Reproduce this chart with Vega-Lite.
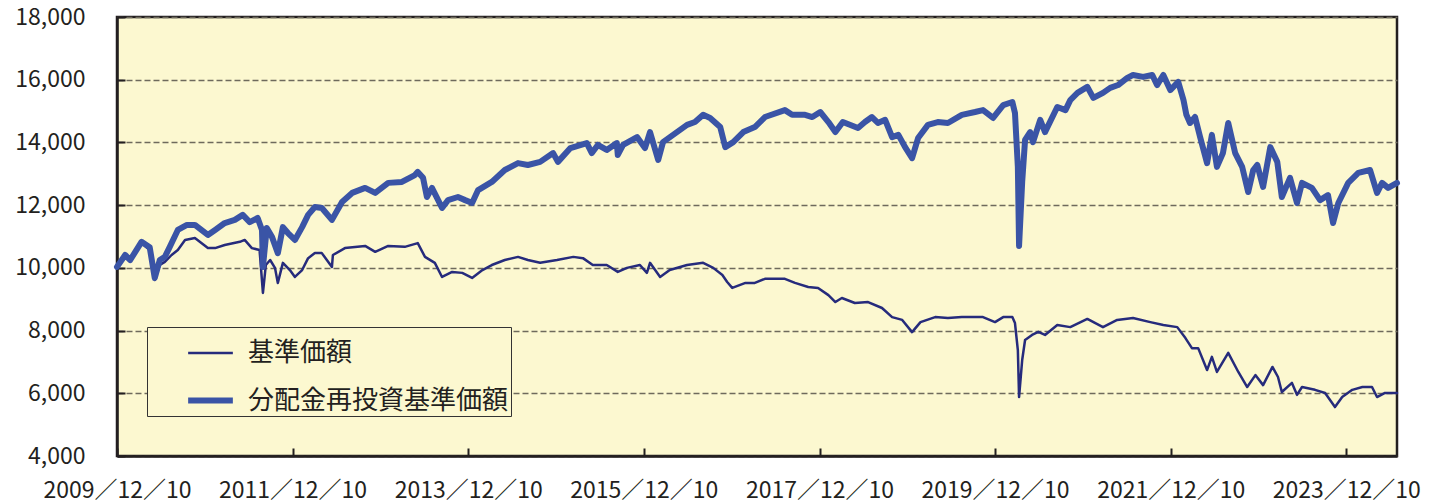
{
  "$schema": "https://vega.github.io/schema/vega-lite/v6.json",
  "width": 1280,
  "height": 439,
  "autosize": "none",
  "padding": {"left": 117, "top": 17, "right": 35, "bottom": 47},
  "background": "white",
  "config": {
    "font": "Noto Sans CJK JP",
    "view": {"fill": "#FCF8D0", "stroke": "#231F20", "strokeWidth": 2.5},
    "axis": {
      "labelFont": "Noto Sans CJK JP",
      "labelFontSize": 23,
      "labelColor": "#231F20",
      "domainColor": "#231F20",
      "domainWidth": 2.5,
      "tickColor": "#231F20",
      "tickWidth": 2,
      "tickSize": -8
    },
    "legend": {
      "labelFont": "Noto Sans CJK JP",
      "labelFontSize": 26,
      "labelColor": "#231F20",
      "labelLimit": 600
    }
  },
  "data": {
    "values": [
      {"date": "2009-12-10", "series": "基準価額", "value": 10030},
      {"date": "2010-01-13", "series": "基準価額", "value": 10380},
      {"date": "2010-02-03", "series": "基準価額", "value": 10220},
      {"date": "2010-03-22", "series": "基準価額", "value": 10790},
      {"date": "2010-04-25", "series": "基準価額", "value": 10570},
      {"date": "2010-05-16", "series": "基準価額", "value": 9610},
      {"date": "2010-06-06", "series": "基準価額", "value": 10090},
      {"date": "2010-06-27", "series": "基準価額", "value": 10190},
      {"date": "2010-07-25", "series": "基準価額", "value": 10410},
      {"date": "2010-08-20", "series": "基準価額", "value": 10570},
      {"date": "2010-09-19", "series": "基準価額", "value": 10890},
      {"date": "2010-10-30", "series": "基準価額", "value": 10950},
      {"date": "2010-12-23", "series": "基準価額", "value": 10630},
      {"date": "2011-01-22", "series": "基準価額", "value": 10630},
      {"date": "2011-03-03", "series": "基準価額", "value": 10730},
      {"date": "2011-05-05", "series": "基準価額", "value": 10830},
      {"date": "2011-05-25", "series": "基準価額", "value": 10890},
      {"date": "2011-06-24", "series": "基準価額", "value": 10630},
      {"date": "2011-07-26", "series": "基準価額", "value": 10570},
      {"date": "2011-08-09", "series": "基準価額", "value": 9200},
      {"date": "2011-08-21", "series": "基準価額", "value": 10090},
      {"date": "2011-09-08", "series": "基準価額", "value": 10250},
      {"date": "2011-09-28", "series": "基準価額", "value": 10000},
      {"date": "2011-10-10", "series": "基準価額", "value": 9520},
      {"date": "2011-10-31", "series": "基準価額", "value": 10160},
      {"date": "2011-11-29", "series": "基準価額", "value": 9930},
      {"date": "2011-12-20", "series": "基準価額", "value": 9710},
      {"date": "2012-01-19", "series": "基準価額", "value": 9930},
      {"date": "2012-02-13", "series": "基準価額", "value": 10310},
      {"date": "2012-03-12", "series": "基準価額", "value": 10470},
      {"date": "2012-04-10", "series": "基準価額", "value": 10470},
      {"date": "2012-05-22", "series": "基準価額", "value": 10030},
      {"date": "2012-05-26", "series": "基準価額", "value": 10410},
      {"date": "2012-07-15", "series": "基準価額", "value": 10630},
      {"date": "2012-10-07", "series": "基準価額", "value": 10700},
      {"date": "2012-11-18", "series": "基準価額", "value": 10510},
      {"date": "2013-01-11", "series": "基準価額", "value": 10700},
      {"date": "2013-03-21", "series": "基準価額", "value": 10670},
      {"date": "2013-05-14", "series": "基準価額", "value": 10790},
      {"date": "2013-06-13", "series": "基準価額", "value": 10350},
      {"date": "2013-07-24", "series": "基準価額", "value": 10160},
      {"date": "2013-08-23", "series": "基準価額", "value": 9710},
      {"date": "2013-10-04", "series": "基準価額", "value": 9870},
      {"date": "2013-11-15", "series": "基準価額", "value": 9840},
      {"date": "2013-12-26", "series": "基準価額", "value": 9680},
      {"date": "2014-02-07", "series": "基準価額", "value": 9930},
      {"date": "2014-03-18", "series": "基準価額", "value": 10090},
      {"date": "2014-05-11", "series": "基準価額", "value": 10250},
      {"date": "2014-07-05", "series": "基準価額", "value": 10350},
      {"date": "2014-08-15", "series": "基準価額", "value": 10250},
      {"date": "2014-10-05", "series": "基準価額", "value": 10160},
      {"date": "2014-12-14", "series": "基準価額", "value": 10250},
      {"date": "2015-02-20", "series": "基準価額", "value": 10350},
      {"date": "2015-04-01", "series": "基準価額", "value": 10310},
      {"date": "2015-05-12", "series": "基準価額", "value": 10090},
      {"date": "2015-07-09", "series": "基準価額", "value": 10090},
      {"date": "2015-08-24", "series": "基準価額", "value": 9870},
      {"date": "2015-10-01", "series": "基準価額", "value": 10000},
      {"date": "2015-11-24", "series": "基準価額", "value": 10090},
      {"date": "2015-12-23", "series": "基準価額", "value": 9840},
      {"date": "2016-01-05", "series": "基準価額", "value": 10160},
      {"date": "2016-02-16", "series": "基準価額", "value": 9710},
      {"date": "2016-03-27", "series": "基準価額", "value": 9930},
      {"date": "2016-06-07", "series": "基準価額", "value": 10090},
      {"date": "2016-08-13", "series": "基準価額", "value": 10160},
      {"date": "2016-09-24", "series": "基準価額", "value": 10000},
      {"date": "2016-11-01", "series": "基準価額", "value": 9770},
      {"date": "2016-11-21", "series": "基準価額", "value": 9550},
      {"date": "2016-12-12", "series": "基準価額", "value": 9360},
      {"date": "2017-02-05", "series": "基準価額", "value": 9520},
      {"date": "2017-03-16", "series": "基準価額", "value": 9520},
      {"date": "2017-04-27", "series": "基準価額", "value": 9650},
      {"date": "2017-07-19", "series": "基準価額", "value": 9650},
      {"date": "2017-08-30", "series": "基準価額", "value": 9520},
      {"date": "2017-10-24", "series": "基準価額", "value": 9390},
      {"date": "2017-12-04", "series": "基準価額", "value": 9360},
      {"date": "2018-01-16", "series": "基準価額", "value": 9130},
      {"date": "2018-02-14", "series": "基準価額", "value": 8910},
      {"date": "2018-03-13", "series": "基準価額", "value": 9040},
      {"date": "2018-05-06", "series": "基準価額", "value": 8880},
      {"date": "2018-06-30", "series": "基準価額", "value": 8910},
      {"date": "2018-08-27", "series": "基準価額", "value": 8720},
      {"date": "2018-10-08", "series": "基準価額", "value": 8430},
      {"date": "2018-11-19", "series": "基準価額", "value": 8340},
      {"date": "2018-12-30", "series": "基準価額", "value": 7950},
      {"date": "2019-02-03", "series": "基準価額", "value": 8270},
      {"date": "2019-04-05", "series": "基準価額", "value": 8430},
      {"date": "2019-05-28", "series": "基準価額", "value": 8400},
      {"date": "2019-07-25", "series": "基準価額", "value": 8430},
      {"date": "2019-09-18", "series": "基準価額", "value": 8430},
      {"date": "2019-10-21", "series": "基準価額", "value": 8430},
      {"date": "2019-12-10", "series": "基準価額", "value": 8270},
      {"date": "2020-01-13", "series": "基準価額", "value": 8430},
      {"date": "2020-02-20", "series": "基準価額", "value": 8430},
      {"date": "2020-03-02", "series": "基準価額", "value": 8240},
      {"date": "2020-03-14", "series": "基準価額", "value": 7380},
      {"date": "2020-03-19", "series": "基準価額", "value": 5880},
      {"date": "2020-04-01", "series": "基準価額", "value": 7060},
      {"date": "2020-04-13", "series": "基準価額", "value": 7700},
      {"date": "2020-05-12", "series": "基準価額", "value": 7860},
      {"date": "2020-06-07", "series": "基準価額", "value": 7960},
      {"date": "2020-07-05", "series": "基準価額", "value": 7860},
      {"date": "2020-08-25", "series": "基準価額", "value": 8180},
      {"date": "2020-10-18", "series": "基準価額", "value": 8110},
      {"date": "2020-12-28", "series": "基準価額", "value": 8370},
      {"date": "2021-03-03", "series": "基準価額", "value": 8110},
      {"date": "2021-05-01", "series": "基準価額", "value": 8340},
      {"date": "2021-07-06", "series": "基準価額", "value": 8400},
      {"date": "2021-09-16", "series": "基準価額", "value": 8270},
      {"date": "2021-11-09", "series": "基準価額", "value": 8180},
      {"date": "2022-01-06", "series": "基準価額", "value": 8110},
      {"date": "2022-02-09", "series": "基準価額", "value": 7760},
      {"date": "2022-03-08", "series": "基準価額", "value": 7440},
      {"date": "2022-04-03", "series": "基準価額", "value": 7440},
      {"date": "2022-05-10", "series": "基準価額", "value": 6740},
      {"date": "2022-05-30", "series": "基準価額", "value": 7160},
      {"date": "2022-06-20", "series": "基準価額", "value": 6680},
      {"date": "2022-08-06", "series": "基準価額", "value": 7290},
      {"date": "2022-09-17", "series": "基準価額", "value": 6680},
      {"date": "2022-10-24", "series": "基準価額", "value": 6200},
      {"date": "2022-11-27", "series": "基準価額", "value": 6580},
      {"date": "2022-12-29", "series": "基準価額", "value": 6260},
      {"date": "2023-02-06", "series": "基準価額", "value": 6840},
      {"date": "2023-03-01", "series": "基準価額", "value": 6520},
      {"date": "2023-03-17", "series": "基準価額", "value": 6040},
      {"date": "2023-04-28", "series": "基準価額", "value": 6330},
      {"date": "2023-05-19", "series": "基準価額", "value": 5950},
      {"date": "2023-06-09", "series": "基準価額", "value": 6200},
      {"date": "2023-08-02", "series": "基準価額", "value": 6110},
      {"date": "2023-09-13", "series": "基準価額", "value": 6010},
      {"date": "2023-10-24", "series": "基準価額", "value": 5560},
      {"date": "2023-11-23", "series": "基準価額", "value": 5880},
      {"date": "2024-01-04", "series": "基準価額", "value": 6110},
      {"date": "2024-02-15", "series": "基準価額", "value": 6200},
      {"date": "2024-03-26", "series": "基準価額", "value": 6200},
      {"date": "2024-04-16", "series": "基準価額", "value": 5880},
      {"date": "2024-05-19", "series": "基準価額", "value": 6010},
      {"date": "2024-07-08", "series": "基準価額", "value": 6010},
      {"date": "2009-12-10", "series": "分配金再投資基準価額", "value": 10030},
      {"date": "2010-01-13", "series": "分配金再投資基準価額", "value": 10410},
      {"date": "2010-02-03", "series": "分配金再投資基準価額", "value": 10250},
      {"date": "2010-03-22", "series": "分配金再投資基準価額", "value": 10830},
      {"date": "2010-04-25", "series": "分配金再投資基準価額", "value": 10660},
      {"date": "2010-05-16", "series": "分配金再投資基準価額", "value": 9680},
      {"date": "2010-06-06", "series": "分配金再投資基準価額", "value": 10250},
      {"date": "2010-06-27", "series": "分配金再投資基準価額", "value": 10350},
      {"date": "2010-07-17", "series": "分配金再投資基準価額", "value": 10660},
      {"date": "2010-08-20", "series": "分配金再投資基準価額", "value": 11210},
      {"date": "2010-09-27", "series": "分配金再投資基準価額", "value": 11370},
      {"date": "2010-10-30", "series": "分配金再投資基準価額", "value": 11370},
      {"date": "2010-12-23", "series": "分配金再投資基準価額", "value": 11050},
      {"date": "2011-01-22", "series": "分配金再投資基準価額", "value": 11210},
      {"date": "2011-03-03", "series": "分配金再投資基準価額", "value": 11430},
      {"date": "2011-04-14", "series": "分配金再投資基準価額", "value": 11530},
      {"date": "2011-05-17", "series": "分配金再投資基準価額", "value": 11690},
      {"date": "2011-06-15", "series": "分配金再投資基準価額", "value": 11460},
      {"date": "2011-07-18", "series": "分配金再投資基準価額", "value": 11590},
      {"date": "2011-08-05", "series": "分配金再投資基準価額", "value": 11210},
      {"date": "2011-08-09", "series": "分配金再投資基準価額", "value": 10030},
      {"date": "2011-08-25", "series": "分配金再投資基準価額", "value": 11270},
      {"date": "2011-09-16", "series": "分配金再投資基準価額", "value": 10980},
      {"date": "2011-10-10", "series": "分配金再投資基準価額", "value": 10470},
      {"date": "2011-10-31", "series": "分配金再投資基準価額", "value": 11300},
      {"date": "2011-11-21", "series": "分配金再投資基準価額", "value": 11110},
      {"date": "2011-12-20", "series": "分配金再投資基準価額", "value": 10890},
      {"date": "2012-01-19", "series": "分配金再投資基準価額", "value": 11300},
      {"date": "2012-02-13", "series": "分配金再投資基準価額", "value": 11690},
      {"date": "2012-03-12", "series": "分配金再投資基準価額", "value": 11940},
      {"date": "2012-04-10", "series": "分配金再投資基準価額", "value": 11910},
      {"date": "2012-05-22", "series": "分配金再投資基準価額", "value": 11530},
      {"date": "2012-07-03", "series": "分配金再投資基準価額", "value": 12100},
      {"date": "2012-08-14", "series": "分配金再投資基準価額", "value": 12390},
      {"date": "2012-10-07", "series": "分配金再投資基準価額", "value": 12550},
      {"date": "2012-11-18", "series": "分配金再投資基準価額", "value": 12390},
      {"date": "2013-01-11", "series": "分配金再投資基準価額", "value": 12710},
      {"date": "2013-03-09", "series": "分配金再投資基準価額", "value": 12740},
      {"date": "2013-05-02", "series": "分配金再投資基準価額", "value": 12960},
      {"date": "2013-05-14", "series": "分配金再投資基準価額", "value": 13060},
      {"date": "2013-06-05", "series": "分配金再投資基準価額", "value": 12870},
      {"date": "2013-06-21", "series": "分配金再投資基準価額", "value": 12260},
      {"date": "2013-07-12", "series": "分配金再投資基準価額", "value": 12550},
      {"date": "2013-08-23", "series": "分配金再投資基準価額", "value": 11910},
      {"date": "2013-09-17", "series": "分配金再投資基準価額", "value": 12160},
      {"date": "2013-10-28", "series": "分配金再投資基準価額", "value": 12260},
      {"date": "2013-11-27", "series": "分配金再投資基準価額", "value": 12160},
      {"date": "2013-12-26", "series": "分配金再投資基準価額", "value": 12070},
      {"date": "2014-01-20", "series": "分配金再投資基準価額", "value": 12480},
      {"date": "2014-03-18", "series": "分配金再投資基準価額", "value": 12740},
      {"date": "2014-05-11", "series": "分配金再投資基準価額", "value": 13120},
      {"date": "2014-07-05", "series": "分配金再投資基準価額", "value": 13340},
      {"date": "2014-08-15", "series": "分配金再投資基準価額", "value": 13280},
      {"date": "2014-10-05", "series": "分配金再投資基準価額", "value": 13380},
      {"date": "2014-11-28", "series": "分配金再投資基準価額", "value": 13660},
      {"date": "2014-12-18", "series": "分配金再投資基準価額", "value": 13380},
      {"date": "2015-02-08", "series": "分配金再投資基準価額", "value": 13820},
      {"date": "2015-04-17", "series": "分配金再投資基準価額", "value": 13980},
      {"date": "2015-05-08", "series": "分配金再投資基準価額", "value": 13660},
      {"date": "2015-06-02", "series": "分配金再投資基準価額", "value": 13920},
      {"date": "2015-07-09", "series": "分配金再投資基準価額", "value": 13760},
      {"date": "2015-08-20", "series": "分配金再投資基準価額", "value": 13980},
      {"date": "2015-08-24", "series": "分配金再投資基準価額", "value": 13600},
      {"date": "2015-09-15", "series": "分配金再投資基準価額", "value": 13920},
      {"date": "2015-11-12", "series": "分配金再投資基準価額", "value": 14170},
      {"date": "2015-12-15", "series": "分配金再投資基準価額", "value": 13820},
      {"date": "2016-01-05", "series": "分配金再投資基準価額", "value": 14330},
      {"date": "2016-02-08", "series": "分配金再投資基準価額", "value": 13440},
      {"date": "2016-02-28", "series": "分配金再投資基準価額", "value": 14010},
      {"date": "2016-04-10", "series": "分配金再投資基準価額", "value": 14240},
      {"date": "2016-06-07", "series": "分配金再投資基準価額", "value": 14560},
      {"date": "2016-07-10", "series": "分配金再投資基準価額", "value": 14650},
      {"date": "2016-08-13", "series": "分配金再投資基準価額", "value": 14880},
      {"date": "2016-09-11", "series": "分配金再投資基準価額", "value": 14780},
      {"date": "2016-10-23", "series": "分配金再投資基準価額", "value": 14490},
      {"date": "2016-11-13", "series": "分配金再投資基準価額", "value": 13850},
      {"date": "2016-12-16", "series": "分配金再投資基準価額", "value": 14010},
      {"date": "2017-01-27", "series": "分配金再投資基準価額", "value": 14330},
      {"date": "2017-03-16", "series": "分配金再投資基準価額", "value": 14490},
      {"date": "2017-04-27", "series": "分配金再投資基準価額", "value": 14810},
      {"date": "2017-07-19", "series": "分配金再投資基準価額", "value": 15030},
      {"date": "2017-08-18", "series": "分配金再投資基準価額", "value": 14880},
      {"date": "2017-10-11", "series": "分配金再投資基準価額", "value": 14880},
      {"date": "2017-11-10", "series": "分配金再投資基準価額", "value": 14810},
      {"date": "2017-12-13", "series": "分配金再投資基準価額", "value": 14970},
      {"date": "2018-01-16", "series": "分配金再投資基準価額", "value": 14650},
      {"date": "2018-02-14", "series": "分配金再投資基準価額", "value": 14330},
      {"date": "2018-03-17", "series": "分配金再投資基準価額", "value": 14650},
      {"date": "2018-05-19", "series": "分配金再投資基準価額", "value": 14460},
      {"date": "2018-06-17", "series": "分配金再投資基準価額", "value": 14650},
      {"date": "2018-07-16", "series": "分配金再投資基準価額", "value": 14810},
      {"date": "2018-08-10", "series": "分配金再投資基準価額", "value": 14620},
      {"date": "2018-09-09", "series": "分配金再投資基準価額", "value": 14720},
      {"date": "2018-10-08", "series": "分配金再投資基準価額", "value": 14170},
      {"date": "2018-11-03", "series": "分配金再投資基準価額", "value": 14240},
      {"date": "2018-12-01", "series": "分配金再投資基準価額", "value": 13850},
      {"date": "2018-12-30", "series": "分配金再投資基準価額", "value": 13500},
      {"date": "2019-01-24", "series": "分配金再投資基準価額", "value": 14140},
      {"date": "2019-03-06", "series": "分配金再投資基準価額", "value": 14560},
      {"date": "2019-04-16", "series": "分配金再投資基準価額", "value": 14650},
      {"date": "2019-05-28", "series": "分配金再投資基準価額", "value": 14620},
      {"date": "2019-07-25", "series": "分配金再投資基準価額", "value": 14880},
      {"date": "2019-09-18", "series": "分配金再投資基準価額", "value": 14970},
      {"date": "2019-10-21", "series": "分配金再投資基準価額", "value": 15030},
      {"date": "2019-12-02", "series": "分配金再投資基準価額", "value": 14780},
      {"date": "2020-01-13", "series": "分配金再投資基準価額", "value": 15190},
      {"date": "2020-02-20", "series": "分配金再投資基準価額", "value": 15290},
      {"date": "2020-03-02", "series": "分配金再投資基準価額", "value": 14940},
      {"date": "2020-03-14", "series": "分配金再投資基準価額", "value": 13220},
      {"date": "2020-03-19", "series": "分配金再投資基準価額", "value": 10700},
      {"date": "2020-04-01", "series": "分配金再投資基準価額", "value": 12740},
      {"date": "2020-04-13", "series": "分配金再投資基準価額", "value": 14080},
      {"date": "2020-05-04", "series": "分配金再投資基準価額", "value": 14330},
      {"date": "2020-05-16", "series": "分配金再投資基準価額", "value": 14010},
      {"date": "2020-06-15", "series": "分配金再投資基準価額", "value": 14720},
      {"date": "2020-07-05", "series": "分配金再投資基準価額", "value": 14330},
      {"date": "2020-08-25", "series": "分配金再投資基準価額", "value": 15130},
      {"date": "2020-09-28", "series": "分配金再投資基準価額", "value": 15030},
      {"date": "2020-10-18", "series": "分配金再投資基準価額", "value": 15350},
      {"date": "2020-11-17", "series": "分配金再投資基準価額", "value": 15580},
      {"date": "2020-12-28", "series": "分配金再投資基準価額", "value": 15770},
      {"date": "2021-01-22", "series": "分配金再投資基準価額", "value": 15420},
      {"date": "2021-03-03", "series": "分配金再投資基準価額", "value": 15580},
      {"date": "2021-04-02", "series": "分配金再投資基準価額", "value": 15740},
      {"date": "2021-05-05", "series": "分配金再投資基準価額", "value": 15830},
      {"date": "2021-06-12", "series": "分配金再投資基準価額", "value": 16060},
      {"date": "2021-07-06", "series": "分配金再投資基準価額", "value": 16150},
      {"date": "2021-08-17", "series": "分配金再投資基準価額", "value": 16090},
      {"date": "2021-09-24", "series": "分配金再投資基準価額", "value": 16150},
      {"date": "2021-10-14", "series": "分配金再投資基準価額", "value": 15830},
      {"date": "2021-11-09", "series": "分配金再投資基準価額", "value": 16150},
      {"date": "2021-12-08", "series": "分配金再投資基準価額", "value": 15670},
      {"date": "2022-01-10", "series": "分配金再投資基準価額", "value": 15930},
      {"date": "2022-02-01", "series": "分配金再投資基準価額", "value": 15350},
      {"date": "2022-02-13", "series": "分配金再投資基準価額", "value": 14880},
      {"date": "2022-02-28", "series": "分配金再投資基準価額", "value": 14620},
      {"date": "2022-03-21", "series": "分配金再投資基準価額", "value": 14810},
      {"date": "2022-04-11", "series": "分配金再投資基準価額", "value": 14170},
      {"date": "2022-05-10", "series": "分配金再投資基準価額", "value": 13340},
      {"date": "2022-05-30", "series": "分配金再投資基準価額", "value": 14240},
      {"date": "2022-06-20", "series": "分配金再投資基準価額", "value": 13220},
      {"date": "2022-07-15", "series": "分配金再投資基準価額", "value": 13660},
      {"date": "2022-08-06", "series": "分配金再投資基準価額", "value": 14620},
      {"date": "2022-09-04", "series": "分配金再投資基準価額", "value": 13660},
      {"date": "2022-10-03", "series": "分配金再投資基準価額", "value": 13220},
      {"date": "2022-10-28", "series": "分配金再投資基準価額", "value": 12420},
      {"date": "2022-11-18", "series": "分配金再投資基準価額", "value": 13120},
      {"date": "2022-12-05", "series": "分配金再投資基準価額", "value": 13280},
      {"date": "2022-12-29", "series": "分配金再投資基準価額", "value": 12580},
      {"date": "2023-01-28", "series": "分配金再投資基準価額", "value": 13850},
      {"date": "2023-02-26", "series": "分配金再投資基準価額", "value": 13380},
      {"date": "2023-03-17", "series": "分配金再投資基準価額", "value": 12260},
      {"date": "2023-04-20", "series": "分配金再投資基準価額", "value": 12870},
      {"date": "2023-05-19", "series": "分配金再投資基準価額", "value": 12070},
      {"date": "2023-06-09", "series": "分配金再投資基準価額", "value": 12710},
      {"date": "2023-07-20", "series": "分配金再投資基準価額", "value": 12550},
      {"date": "2023-08-23", "series": "分配金再投資基準価額", "value": 12160},
      {"date": "2023-09-25", "series": "分配金再投資基準価額", "value": 12320},
      {"date": "2023-10-16", "series": "分配金再投資基準価額", "value": 11430},
      {"date": "2023-11-07", "series": "分配金再投資基準価額", "value": 12070},
      {"date": "2023-12-18", "series": "分配金再投資基準価額", "value": 12710},
      {"date": "2024-01-29", "series": "分配金再投資基準価額", "value": 13030},
      {"date": "2024-03-18", "series": "分配金再投資基準価額", "value": 13120},
      {"date": "2024-04-16", "series": "分配金再投資基準価額", "value": 12390},
      {"date": "2024-05-07", "series": "分配金再投資基準価額", "value": 12710},
      {"date": "2024-06-01", "series": "分配金再投資基準価額", "value": 12550},
      {"date": "2024-07-08", "series": "分配金再投資基準価額", "value": 12710}
    ]
  },
  "encoding": {
    "x": {
      "field": "date",
      "type": "temporal",
      "title": null,
      "scale": {
        "type": "utc",
        "domain": [
          {"year": 2009, "month": 12, "date": 10, "utc": true},
          {"year": 2024, "month": 7, "date": 8, "utc": true}
        ]
      },
      "axis": {
        "values": [
          {"year": 2009, "month": 12, "date": 10, "utc": true},
          {"year": 2011, "month": 12, "date": 10, "utc": true},
          {"year": 2013, "month": 12, "date": 10, "utc": true},
          {"year": 2015, "month": 12, "date": 10, "utc": true},
          {"year": 2017, "month": 12, "date": 10, "utc": true},
          {"year": 2019, "month": 12, "date": 10, "utc": true},
          {"year": 2021, "month": 12, "date": 10, "utc": true},
          {"year": 2023, "month": 12, "date": 10, "utc": true}
        ],
        "labelExpr": "utcFormat(datum.value, '%Y／%m／%d')",
        "grid": false,
        "labelPadding": 31,
        "labelOverlap": false,
        "labelFlush": false
      }
    },
    "y": {
      "field": "value",
      "type": "quantitative",
      "title": null,
      "scale": {"domain": [4000, 18000], "nice": false, "zero": false},
      "axis": {
        "values": [4000, 6000, 8000, 10000, 12000, 14000, 16000, 18000],
        "format": ",d",
        "grid": true,
        "gridColor": "#6E6A5C",
        "gridDash": [6, 3],
        "gridWidth": 1.5,
        "labelPadding": 40
      }
    },
    "color": {
      "field": "series",
      "type": "nominal",
      "scale": {
        "domain": ["基準価額", "分配金再投資基準価額"],
        "range": ["#262B7C", "#3A54A6"]
      },
      "legend": {
        "title": null,
        "orient": "none",
        "legendX": 30,
        "legendY": 310,
        "symbolType": "stroke",
        "symbolSize": 2000,
        "symbolOffset": 36,
        "labelOffset": 12,
        "labelLimit": 600,
        "padding": 2,
        "rowPadding": 9,
        "strokeColor": "#333333",
        "fillColor": "#FCF8D0"
      }
    },
    "strokeWidth": {
      "field": "series",
      "type": "nominal",
      "scale": {
        "domain": ["基準価額", "分配金再投資基準価額"],
        "range": [2.5, 6]
      },
      "legend": {
        "title": null,
        "orient": "none",
        "legendX": 30,
        "legendY": 310,
        "symbolType": "stroke",
        "symbolSize": 2000,
        "symbolOffset": 36,
        "labelOffset": 12,
        "labelLimit": 600,
        "padding": 2,
        "rowPadding": 9,
        "strokeColor": "#333333",
        "fillColor": "#FCF8D0"
      }
    }
  },
  "layer": [
    {
      "transform": [{"filter": "datum.series === '基準価額'"}],
      "mark": {"type": "line", "strokeJoin": "round", "strokeCap": "round"}
    },
    {
      "transform": [{"filter": "datum.series === '分配金再投資基準価額'"}],
      "mark": {"type": "line", "strokeJoin": "round", "strokeCap": "round"}
    }
  ]
}
